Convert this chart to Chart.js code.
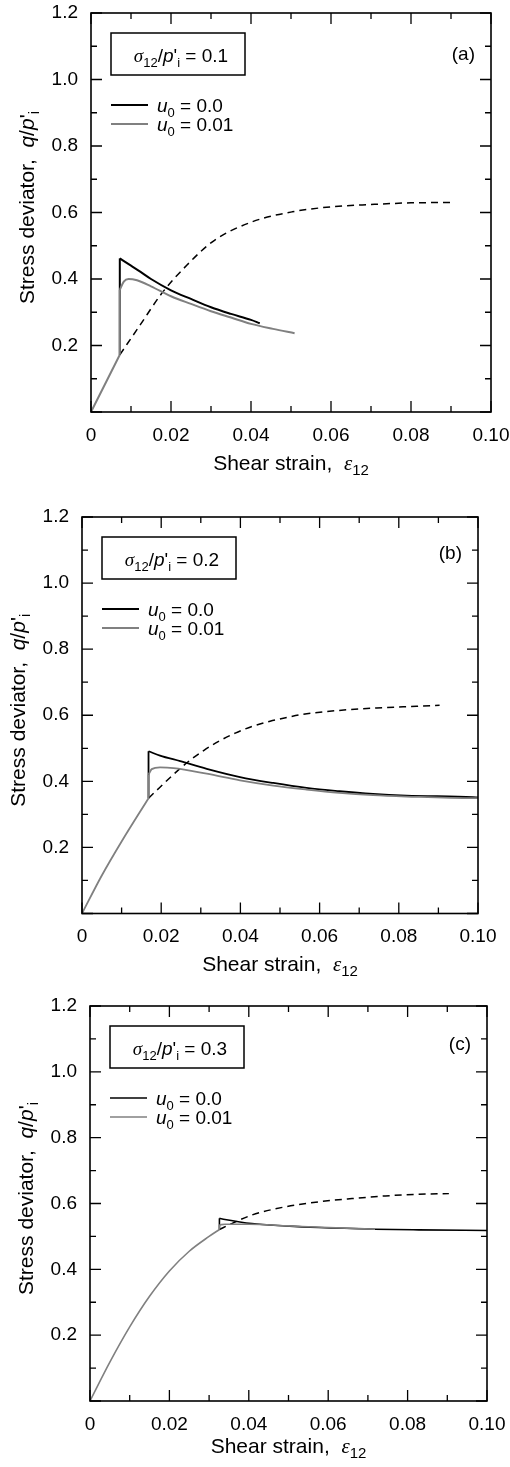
<!DOCTYPE html>
<html>
<head>
<meta charset="utf-8">
<script src="https://cdn.jsdelivr.net/npm/chart.js@4.4.1/dist/chart.umd.min.js"></script>
<style>
  html, body { margin: 0; padding: 0; background: #fff; }
  canvas { display: block; }
</style>
</head>
<body>
<canvas id="panelA" width="510" height="490"></canvas>
<canvas id="panelB" width="510" height="490"></canvas>
<canvas id="panelC" width="510" height="487"></canvas>
<script>
// tick values (shared by the three panels)
const xTicks = [0, 0.02, 0.04, 0.06, 0.08, 0.10];
const xMinorTicks = [0.01, 0.03, 0.05, 0.07, 0.09];
const yTicks = [0, 0.2, 0.4, 0.6, 0.8, 1.0, 1.2];
const yMinorTicks = [0.1, 0.3, 0.5, 0.7, 0.9, 1.1];

const panelNames = ['(a)', '(b)', '(c)'];
const stressRatios = ['0.1', '0.2', '0.3'];
const u0Values = ['0.0', '0.01'];

// (a) sigma12/p'i = 0.1
const aRiseX = [0, 0.0072];
const aRiseY = [0, 0.172];
const aBlackX = [0.0072, 0.010, 0.0123, 0.015, 0.020, 0.025, 0.030, 0.035, 0.040, 0.0422];
const aBlackY = [0.462, 0.440, 0.422, 0.400, 0.366, 0.340, 0.315, 0.295, 0.277, 0.267];
const aGrayX = [0.0072, 0.0082, 0.0094, 0.0115, 0.015, 0.020, 0.025, 0.030, 0.035, 0.040, 0.0455, 0.0509];
const aGrayY = [0.367, 0.392, 0.400, 0.396, 0.378, 0.348, 0.325, 0.303, 0.284, 0.265, 0.250, 0.237];
const aDashX = [0.0072, 0.0123, 0.0177, 0.024, 0.0307, 0.0403, 0.0503, 0.060, 0.070, 0.080, 0.0903];
const aDashY = [0.172, 0.262, 0.357, 0.442, 0.515, 0.572, 0.602, 0.617, 0.624, 0.629, 0.630];

// (b) sigma12/p'i = 0.2
const bRiseX = [0, 0.005, 0.010, 0.0168];
const bRiseY = [0, 0.115, 0.218, 0.349];
const bBlackX = [0.0168, 0.0197, 0.0248, 0.0315, 0.0399, 0.0483, 0.0567, 0.065, 0.0735, 0.0819, 0.0987, 0.100];
const bBlackY = [0.491, 0.478, 0.461, 0.438, 0.413, 0.395, 0.380, 0.370, 0.362, 0.357, 0.352, 0.351];
const bGrayX = [0.0168, 0.0176, 0.0197, 0.0231, 0.0315, 0.0399, 0.0483, 0.0567, 0.065, 0.0735, 0.0819, 0.0987, 0.100];
const bGrayY = [0.420, 0.437, 0.442, 0.440, 0.423, 0.403, 0.387, 0.375, 0.365, 0.358, 0.354, 0.349, 0.349];
const bDashX = [0.0168, 0.0195, 0.0233, 0.0273, 0.0308, 0.0345, 0.0387, 0.0429, 0.0475, 0.0517, 0.0559, 0.0643, 0.0744, 0.0845, 0.0903];
const bDashY = [0.349, 0.380, 0.423, 0.464, 0.494, 0.521, 0.546, 0.566, 0.582, 0.593, 0.603, 0.614, 0.622, 0.627, 0.630];

// (c) sigma12/p'i = 0.3
const cRiseX = [0, 0.005, 0.010, 0.015, 0.020, 0.025, 0.030, 0.0326];
const cRiseY = [0, 0.118, 0.225, 0.318, 0.395, 0.455, 0.500, 0.521];
const cBlackX = [0.0326, 0.034, 0.0408, 0.0492, 0.0576, 0.0718, 0.0828, 0.100];
const cBlackY = [0.555, 0.5515, 0.539, 0.532, 0.527, 0.522, 0.520, 0.518];
const cGrayX = [0.0326, 0.034, 0.040, 0.050, 0.060, 0.0718];
const cGrayY = [0.535, 0.537, 0.537, 0.532, 0.527, 0.522];
const cDashX = [0.0326, 0.0357, 0.0408, 0.0492, 0.0576, 0.066, 0.0744, 0.0828, 0.0904];
const cDashY = [0.521, 0.539, 0.565, 0.590, 0.605, 0.615, 0.623, 0.628, 0.630];

const SANS = "'Liberation Sans', Arial, sans-serif";
const SERIF = "'Liberation Serif', 'Times New Roman', serif";
const GRAY = '#808080';

// plot area of each canvas, in canvas pixels
const panels = [
  { id: 'panelA', w: 510, h: 490, left: 91, right: 491, top: 13, bottom: 412, lw: 2.0, labelDy: 47, titleDy: 58,
    rise: [aRiseX, aRiseY], black: [aBlackX, aBlackY], gray: [aGrayX, aGrayY], dash: [aDashX, aDashY] },
  { id: 'panelB', w: 510, h: 490, left: 82, right: 478, top: 27, bottom: 423.5, lw: 1.8, labelDy: 42, titleDy: 57,
    rise: [bRiseX, bRiseY], black: [bBlackX, bBlackY], gray: [bGrayX, bGrayY], dash: [bDashX, bDashY] },
  { id: 'panelC', w: 510, h: 487, left: 90, right: 487, top: 26, bottom: 421, lw: 1.6, labelDy: 44, titleDy: 52,
    rise: [cRiseX, cRiseY], black: [cBlackX, cBlackY], gray: [cGrayX, cGrayY], dash: [cDashX, cDashY] }
];

const pts = (xs, ys) => xs.map((x, i) => ({ x: x, y: ys[i] }));
const last = arr => arr[arr.length - 1];

function fontFor(part, size) {
  const st = part[1] || '';
  const sz = st.includes('s') ? Math.round(size * 0.7) : size;
  const it = st.includes('i') ? 'italic ' : '';
  const fam = st.includes('g') ? SERIF : SANS;
  return it + sz + 'px ' + fam;
}

// parts: [text, style]  style letters: i = italic, s = subscript, g = greek (serif)
function drawRich(ctx, parts, x, y, size, align) {
  const widths = parts.map(p => { ctx.font = fontFor(p, size); return ctx.measureText(p[0]).width; });
  const total = widths.reduce((a, b) => a + b, 0);
  let cx = align === 'center' ? x - total / 2 : (align === 'right' ? x - total : x);
  ctx.textAlign = 'left';
  ctx.textBaseline = 'alphabetic';
  parts.forEach((p, i) => {
    ctx.font = fontFor(p, size);
    const dy = (p[1] || '').includes('s') ? size * 0.24 : 0;
    ctx.fillText(p[0], cx, y + dy);
    cx += widths[i];
  });
}

const framePlugin = {
  id: 'frame',
  afterDatasetsDraw(chart) {
    const { ctx, chartArea: a, scales: { x, y } } = chart;
    ctx.save();
    ctx.strokeStyle = '#000';
    ctx.lineWidth = 1.3;
    ctx.beginPath();
    const xt = (vals, len) => vals.forEach(v => {
      const px = x.getPixelForValue(v);
      ctx.moveTo(px, a.bottom); ctx.lineTo(px, a.bottom - len);
      ctx.moveTo(px, a.top); ctx.lineTo(px, a.top + len);
    });
    const yt = (vals, len) => vals.forEach(v => {
      const py = y.getPixelForValue(v);
      ctx.moveTo(a.left, py); ctx.lineTo(a.left + len, py);
      ctx.moveTo(a.right, py); ctx.lineTo(a.right - len, py);
    });
    xt(xTicks, 11); xt(xMinorTicks, 6);
    yt(yTicks, 11); yt(yMinorTicks, 6);
    ctx.stroke();
    ctx.lineWidth = 1.6;
    ctx.strokeRect(a.left, a.top, a.right - a.left, a.bottom - a.top);
    ctx.restore();
  }
};

const decorPlugin = {
  id: 'decor',
  afterDraw(chart, args, opts) {
    const { ctx, chartArea: a } = chart;
    const k = opts.index;
    const p = panels[k];
    ctx.save();
    ctx.fillStyle = '#000';

    // stress ratio box
    const bx = a.left + 20, by = a.top + 20, bw = 134, bh = 42;
    ctx.lineWidth = 1.5;
    ctx.strokeStyle = '#000';
    ctx.strokeRect(bx, by, bw, bh);
    drawRich(ctx, [['σ', 'gi'], ['12', 's'], ['/', ''], ['p', 'i'], ["'", ''], ['i', 's'], [' = ' + stressRatios[k], '']],
      bx + bw / 2 + 3, by + 29, 19, 'center');

    // legend
    const lx0 = a.left + 20, lx1 = a.left + 57;
    [['#000', a.top + 92], [GRAY, a.top + 111]].forEach((row, i) => {
      ctx.strokeStyle = row[0];
      ctx.lineWidth = p.lw;
      ctx.beginPath(); ctx.moveTo(lx0, row[1]); ctx.lineTo(lx1, row[1]); ctx.stroke();
      drawRich(ctx, [['u', 'i'], ['0', 's'], [' = ' + u0Values[i], '']], a.left + 66, row[1] + 7, 19, 'left');
    });

    // panel label
    ctx.font = '19px ' + SANS;
    ctx.textAlign = 'right';
    ctx.textBaseline = 'alphabetic';
    ctx.fillText(panelNames[k], a.right - 16, a.top + p.labelDy);

    // axis titles
    drawRich(ctx, [['Shear strain,  ', ''], ['ε', 'gi'], ['12', 's']],
      (a.left + a.right) / 2, a.bottom + p.titleDy, 21, 'center');
    ctx.translate(a.left - 57, (a.top + a.bottom) / 2 - 5);
    ctx.rotate(-Math.PI / 2);
    drawRich(ctx, [['Stress deviator,  ', ''], ['q', 'i'], ['/', ''], ['p', 'i'], ["'", ''], ['i', 's']],
      0, 0, 21, 'center');
    ctx.restore();
  }
};

panels.forEach((p, k) => {
  const rx = p.rise[0], ry = p.rise[1];
  const bx = p.black[0], by = p.black[1];
  const gx = p.gray[0], gy = p.gray[1];
  const datasets = [
    { data: pts(p.dash[0], p.dash[1]), borderColor: '#000', borderWidth: 1.5, borderDash: [7, 5],
      cubicInterpolationMode: 'monotone', order: 3 },
    { data: [{ x: last(rx), y: last(ry) }, { x: bx[0], y: by[0] }], borderColor: '#000', borderWidth: p.lw,
      tension: 0, order: 2 },
    { data: pts(bx, by), borderColor: '#000', borderWidth: p.lw, cubicInterpolationMode: 'monotone', order: 2 },
    { data: pts(rx, ry), borderColor: GRAY, borderWidth: p.lw, cubicInterpolationMode: 'monotone', order: 1 },
    { data: [{ x: last(rx), y: last(ry) }, { x: gx[0], y: gy[0] }], borderColor: GRAY, borderWidth: p.lw,
      tension: 0, order: 1 },
    { data: pts(gx, gy), borderColor: GRAY, borderWidth: p.lw, cubicInterpolationMode: 'monotone', order: 1 }
  ];
  datasets.forEach(d => { d.pointRadius = 0; d.fill = false; });

  new Chart(document.getElementById(p.id), {
    type: 'line',
    data: { datasets: datasets },
    options: {
      responsive: false,
      devicePixelRatio: 1,
      animation: false,
      events: [],
      layout: { padding: { left: 0, top: p.top, right: p.w - p.right, bottom: 0 } },
      plugins: { legend: { display: false }, tooltip: { enabled: false }, decor: { index: k } },
      scales: {
        x: {
          type: 'linear', min: 0, max: 0.1,
          grid: { display: false }, border: { display: false },
          afterBuildTicks: s => { s.ticks = xTicks.map(v => ({ value: v })); },
          afterFit: s => { s.height = p.h - p.bottom; s.paddingLeft = 0; s.paddingRight = 0; },
          ticks: {
            maxRotation: 0, autoSkip: false, padding: 4, color: '#000',
            font: { family: SANS, size: 19 },
            callback: v => (v === 0 ? '0' : v.toFixed(2))
          }
        },
        y: {
          type: 'linear', min: 0, max: 1.2,
          grid: { display: false }, border: { display: false },
          afterBuildTicks: s => { s.ticks = yTicks.map(v => ({ value: v })); },
          afterFit: s => { s.width = p.left; s.paddingTop = 0; s.paddingBottom = 0; },
          ticks: {
            autoSkip: false, padding: 5, color: '#000',
            font: { family: SANS, size: 19 },
            callback: v => (v === 0 ? '' : v.toFixed(1))
          }
        }
      }
    },
    plugins: [framePlugin, decorPlugin]
  });
});
</script>
</body>
</html>
